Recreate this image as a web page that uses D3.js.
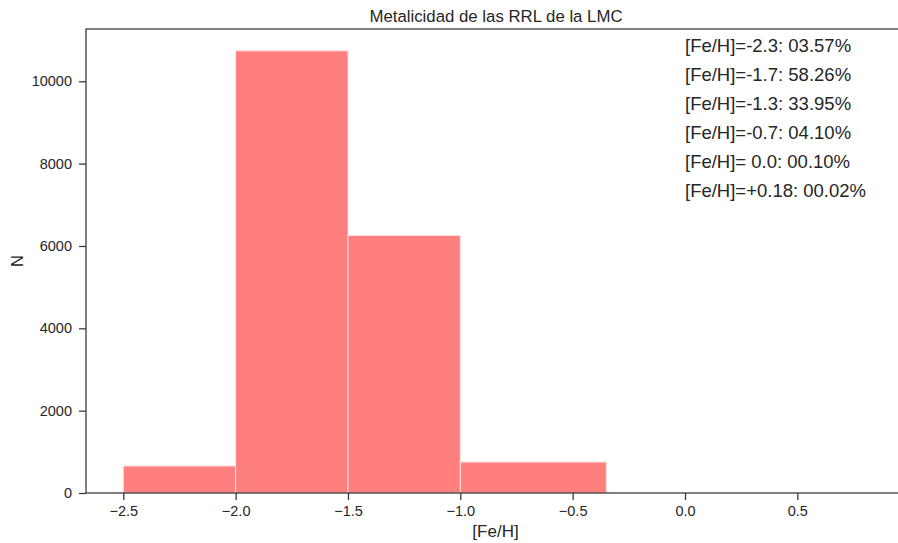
<!DOCTYPE html>
<html>
<head>
<meta charset="utf-8">
<script src="https://cdn.jsdelivr.net/npm/d3@7"></script>
<style>
  body { margin: 0; background: #fff; }
  text { font-family: "Liberation Sans", Arial, sans-serif; fill: #262626; }
</style>
</head>
<body>
<svg id="chart" width="898" height="543"></svg>
<script>
// bin edges and counts of the histogram
var binEdges = [-2.5, -2.0, -1.5, -1.0, -0.35];
var counts = [657, 10740, 6255, 752];
var xTicks = [-2.5, -2.0, -1.5, -1.0, -0.5, 0.0, 0.5];
var yTicks = [0, 2000, 4000, 6000, 8000, 10000];
var legendLines = [
    "[Fe/H]=-2.3: 03.57%",
    "[Fe/H]=-1.7: 58.26%",
    "[Fe/H]=-1.3: 33.95%",
    "[Fe/H]=-0.7: 04.10%",
    "[Fe/H]= 0.0: 00.10%",
    "[Fe/H]=+0.18: 00.02%"
];

var margin = { top: 29, right: -2, bottom: 50, left: 86 };
var width = 898 - margin.left - margin.right;
var height = 543 - margin.top - margin.bottom;

var svg = d3.select("#chart");
var g = svg.append("g")
    .attr("transform", "translate(" + margin.left + "," + margin.top + ")");

var x = d3.scaleLinear()
    .domain([-2.666, 0.957])
    .range([0, width]);

var y = d3.scaleLinear()
    .domain([0, 11270])
    .range([height, 0]);

var bins = counts.map(function (c, i) {
    return { x0: binEdges[i], x1: binEdges[i + 1], n: c };
});

g.selectAll("rect.bar")
    .data(bins)
    .enter()
    .append("rect")
    .attr("class", "bar")
    .attr("x", function (d) { return x(d.x0); })
    .attr("y", function (d) { return y(d.n); })
    .attr("width", function (d) { return x(d.x1) - x(d.x0); })
    .attr("height", function (d) { return height - y(d.n); })
    .attr("fill", "#ff7f7f")
    .attr("stroke", "#ffe0e0")
    .attr("stroke-width", 1);

var fmt = function (d) { return d3.format(".1f")(d).replace("-", "\u2212"); };

var xAxis = g.append("g")
    .attr("transform", "translate(0," + height + ")")
    .call(d3.axisBottom(x).tickValues(xTicks).tickFormat(fmt).tickSize(7).tickPadding(6));

var yAxis = g.append("g")
    .call(d3.axisLeft(y).tickValues(yTicks).tickFormat(d3.format("d")).tickSize(7).tickPadding(7));

[xAxis, yAxis].forEach(function (a) {
    a.select(".domain").remove();
    a.selectAll("line").attr("stroke", "#333").attr("stroke-width", 1.25);
    a.selectAll("text").style("font-size", "14.5px").attr("fill", "#333");
});

// frame
g.append("rect")
    .attr("x", 0).attr("y", 0)
    .attr("width", width).attr("height", height)
    .attr("fill", "none")
    .attr("stroke", "#333")
    .attr("stroke-width", 1.25);

svg.append("text")
    .attr("x", 496)
    .attr("y", 22)
    .attr("text-anchor", "middle")
    .style("font-size", "16.8px")
    .text("Metalicidad de las RRL de la LMC");

svg.append("text")
    .attr("x", 495.5)
    .attr("y", 536.5)
    .attr("text-anchor", "middle")
    .style("font-size", "17px")
    .text("[Fe/H]");

svg.append("text")
    .attr("transform", "translate(23," + (margin.top + height / 2) + ") rotate(-90)")
    .attr("text-anchor", "middle")
    .style("font-size", "16.5px")
    .text("N");

var legend = svg.append("g")
    .attr("class", "legend")
    .attr("transform", "translate(685,52)");

legend.selectAll("text")
    .data(legendLines)
    .enter()
    .append("text")
    .attr("x", 0)
    .attr("y", function (d, i) { return i * 29; })
    .style("font-size", "18.5px")
    .text(function (d) { return d; });
</script>
</body>
</html>
